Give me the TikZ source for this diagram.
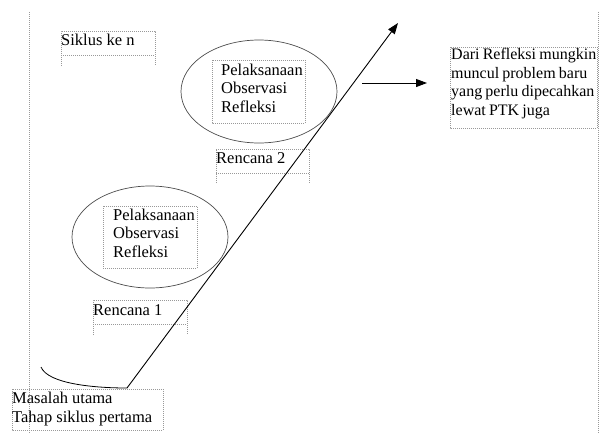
\documentclass[tikz,border=0pt]{standalone}
\usepackage{fontspec}
\setmainfont{Liberation Serif}
\usetikzlibrary{shapes.geometric,arrows.meta}
\newcommand\darifont{\fontsize{16}{18.5}\selectfont\spaceskip=0.2em\relax}
\begin{document}
\begin{tikzpicture}[x=1pt,y=-1pt,
  frame/.style={draw=gray!80, line width=0.6pt, dash pattern=on 1pt off 1pt},
  txt/.style={anchor=base west, inner sep=0pt, align=left, font=\fontsize{16.5}{18.5}\selectfont},
  oval/.style={draw=black!70, line width=0.7pt, ellipse, inner sep=0pt},
  arr/.style={draw=black, line width=0.9pt, -{Triangle[length=11pt,width=8pt]}}]
\useasboundingbox (0,0) rectangle (601,434);
% page margin guides
\draw[frame] (29,12) -- (29,434);
\draw[frame] (598,12) -- (598,434);
% ellipses
\node[oval, minimum width=156pt, minimum height=103pt] (e2) at (259,91.5) {};
\node[oval, minimum width=156pt, minimum height=102pt] (e1) at (150,237) {};
% frames
\draw[frame] (61,66) -- (61,31) -- (155,31) -- (155,66) (61,55) -- (155,55);
\draw[frame] (216,183) -- (216,149) -- (309,149) -- (309,183) (216,173) -- (309,173);
\draw[frame] (93,335) -- (93,300) -- (187,300) -- (187,335) (93,324) -- (187,324);
\draw[frame] (212,60) rectangle (305,123);
\draw[frame] (103,206) rectangle (197,268);
\draw[frame] (450,47) rectangle (597,128);
\draw[frame] (12,389) rectangle (163,430);
% texts (base = baseline of last line)
\node[txt] (siklus) at (61,45) {Siklus ke n};
\node[txt] (p2) at (221,112) {Pelaksanaan\\Observasi\\Refleksi};
\node[txt] (r2) at (216,163) {Rencana 2};
\node[txt] (p1) at (113,257) {Pelaksanaan\\Observasi\\Refleksi};
\node[txt] (r1) at (93,315) {Rencana 1};
\node[txt, font=\darifont] (dari) at (451,115) {Dari Refleksi mungkin\\muncul problem baru\\yang perlu dipecahkan\\lewat PTK juga};
\node[txt] (masalah) at (12,422) {Masalah utama\\Tahap siklus pertama};
% connectors
\coordinate (c0) at (41,367);
\coordinate (c1) at (127,388);
\coordinate (tip) at (398,23);
\coordinate (h0) at (362,83);
\coordinate (h1) at (427,83);
\draw[black, line width=0.8pt] (c0) .. controls (48,384) and (95,388) .. (c1);
\draw[arr] (c1) -- (tip);
\draw[arr] (h0) -- (h1);
\end{tikzpicture}
\end{document}
